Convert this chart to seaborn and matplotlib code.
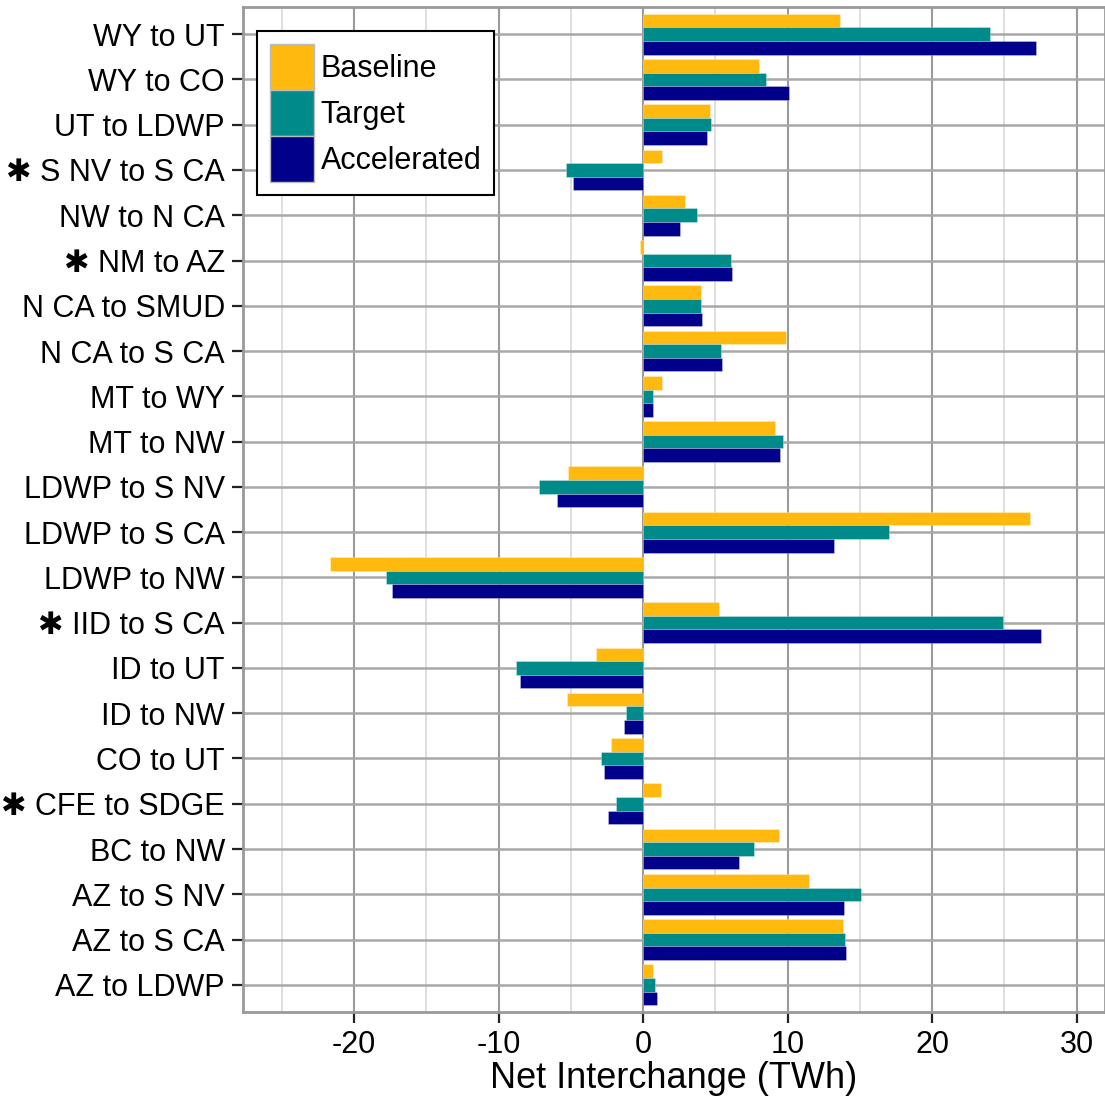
import matplotlib
matplotlib.use("Agg")
import matplotlib.pyplot as plt
from matplotlib.patches import Patch
from matplotlib.ticker import MultipleLocator
import numpy as np
import pandas as pd
import seaborn as sns

STAR = "\u2731 "

paths = [
    "WY to UT", "WY to CO", "UT to LDWP", STAR + "S NV to S CA", "NW to N CA",
    STAR + "NM to AZ", "N CA to SMUD", "N CA to S CA", "MT to WY", "MT to NW",
    "LDWP to S NV", "LDWP to S CA", "LDWP to NW", STAR + "IID to S CA",
    "ID to UT", "ID to NW", "CO to UT", STAR + "CFE to SDGE", "BC to NW",
    "AZ to S NV", "AZ to S CA", "AZ to LDWP",
]

baseline = [13.6, 8.0, 4.64, 1.31, 2.91, -0.21, 3.97, 9.87, 1.31, 9.16,
            -5.17, 26.78, -21.7, 5.26, -3.23, -5.3, -2.21, 1.22, 9.43,
            11.49, 13.82, 0.69]
target = [24.0, 8.5, 4.73, -5.35, 3.76, 6.11, 3.97, 5.37, 0.65, 9.69,
          -7.2, 17.0, -17.8, 24.89, -8.83, -1.22, -2.9, -1.89, 7.66,
          15.1, 13.96, 0.83]
accelerated = [27.2, 10.1, 4.43, -4.87, 2.52, 6.18, 4.06, 5.44, 0.65, 9.5,
               -5.97, 13.24, -17.4, 27.54, -8.54, -1.34, -2.74, -2.4, 6.62,
               13.93, 14.05, 0.97]

scenarios = ["Baseline", "Target", "Accelerated"]
colors = ["#FFB90F", "#008B8B", "#00008B"]

df = pd.DataFrame({
    "path": paths * 3,
    "scenario": np.repeat(scenarios, len(paths)),
    "value": baseline + target + accelerated,
})

sns.set_theme(style="white")
plt.rcParams["font.family"] = ["Liberation Sans", "DejaVu Sans"]
plt.rcParams["axes.unicode_minus"] = False
plt.rcParams["text.color"] = "black"

fig = plt.figure(figsize=(11.05, 10.98), dpi=100)
ax = fig.add_axes([243 / 1105, 1 - 1012 / 1098, 1 - 243 / 1105, (1012 - 7) / 1098])

sns.barplot(data=df, x="value", y="path", hue="scenario", order=paths,
            hue_order=scenarios, palette=colors, orient="h", width=0.9,
            saturation=1, linewidth=0.6, edgecolor="#ffffff55", ax=ax,
            legend=False)

ax.set_xlim(-27.7, 31.97)
ax.set_ylim(len(paths) - 1 + 0.6, -0.6)
ax.xaxis.set_major_locator(MultipleLocator(10))
ax.xaxis.set_minor_locator(MultipleLocator(5))
ax.set_axisbelow(True)
ax.grid(axis="x", which="major", color="#9a9a9a", linewidth=1.5)
ax.grid(axis="x", which="minor", color="#d9d9d9", linewidth=1.2)
ax.grid(axis="y", which="major", color="#a8a8a8", linewidth=1.8)

for side, sp in ax.spines.items():
    sp.set_visible(True)
    sp.set_color("#999999")
    sp.set_linewidth(2)

ax.tick_params(axis="both", which="major", length=8, width=1.6, color="#222222",
               labelsize=22, labelcolor="black", pad=5, bottom=True, left=True)
ax.tick_params(axis="x", which="minor", length=0)
ax.set_ylabel("")
ax.set_xlabel("Net Interchange (TWh)", fontsize=26, labelpad=1, color="black")

handles = [Patch(facecolor=c, edgecolor="#bbbbbb", linewidth=1) for c in colors]
leg = fig.legend(handles, scenarios, loc="upper left",
                 bbox_to_anchor=(257 / 1105, 1 - 31 / 1098), borderaxespad=0,
                 fontsize=22, frameon=True, fancybox=False, framealpha=1,
                 edgecolor="black", handlelength=1.44, handleheight=1.94,
                 labelspacing=0.0, handletextpad=0.22, borderpad=0.42,
                 labelcolor="black")
leg.get_frame().set_linewidth(1.5)

fig.savefig("out.png", dpi=100)
